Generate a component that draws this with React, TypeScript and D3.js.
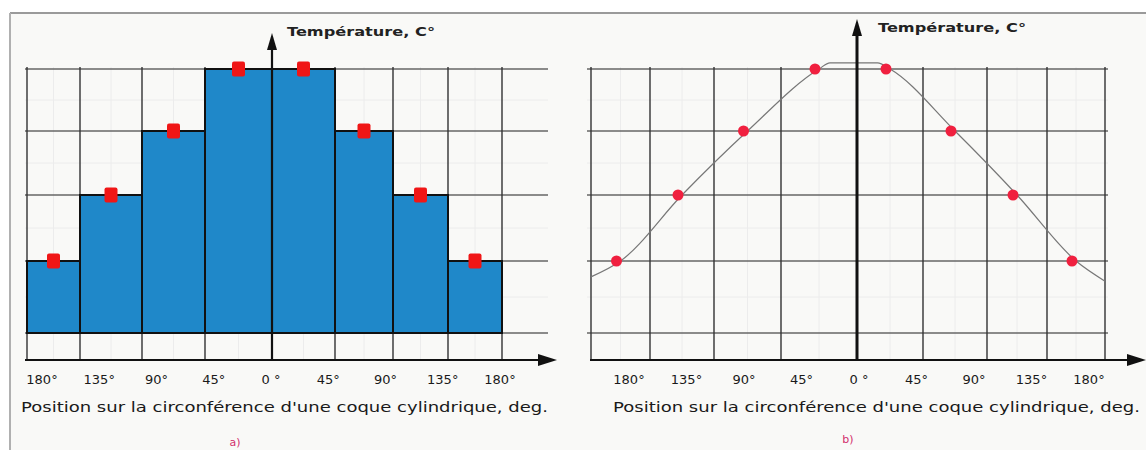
import React from "react";
import * as d3 from "d3";

// ---- data ----
const tickDegrees = [-180, -135, -90, -45, 0, 45, 90, 135, 180];
const tickLabels = ["180°", "135°", "90°", "45°", "0 °", "45°", "90°", "135°", "180°"];
const binStart = [-180, -135, -90, -45, 0, 45, 90, 135];
const binEnd = [-135, -90, -45, 0, 45, 90, 135, 180];
const temperatureLevels = [1, 2, 3, 4, 4, 3, 2, 1];
const gridLevels = [0, 1, 2, 3, 4];
const curveDegrees = [-180, -157.5, -112.5, -67.5, -22.5, -16, 14, 22.5, 67.5, 112.5, 157.5, 180];
const curveLevels = [0.78, 1, 2, 3, 4, 4.1, 4.1, 4, 3, 2, 1, 0.72];
const yTitle = "Température, C°";
const xTitle = "Position sur la circonférence d'une coque cylindrique, deg.";
const panelTags = ["a)", "b)"];

// ---- layout ----
const W = 1146;
const H = 450;
const FONT = "'DejaVu Sans', Verdana, sans-serif";

type PanelCfg = {
  xRange: number[];
  gridX: [number, number];
  axisStart: number;
  axisEnd: number;
  labelRange: [number, number];
  yTip: number;
  titleX: number;
  titleY: number;
  xTitleX: number;
  tagX: number;
  tagY: number;
  kind: "bars" | "curve";
  tag: string;
};

const panels: PanelCfg[] = [
  {
    xRange: [27, 80, 142, 205, 272, 335, 393, 448, 502],
    gridX: [25, 548],
    axisStart: 25,
    axisEnd: 557,
    labelRange: [42, 500],
    yTip: 33,
    titleX: 287,
    titleY: 36,
    xTitleX: 21,
    tagX: 235,
    tagY: 446,
    kind: "bars",
    tag: panelTags[0],
  },
  {
    xRange: [591, 650, 714, 781, 857, 923, 987, 1047, 1105],
    gridX: [587, 1108],
    axisStart: 590,
    axisEnd: 1146,
    labelRange: [629, 1089],
    yTip: 19,
    titleX: 878,
    titleY: 32,
    xTitleX: 613,
    tagX: 848,
    tagY: 443,
    kind: "curve",
    tag: panelTags[1],
  },
];

const yScale = d3.scaleLinear().domain(gridLevels).range([333, 261, 195, 131, 69]);
const AXIS_Y = 360;
const GRID_TOP = 67;

function Panel({ cfg }: { cfg: PanelCfg }) {
  const x = d3.scaleLinear().domain(tickDegrees).range(cfg.xRange);
  const xl = d3.scaleLinear().domain([-180, 180]).range(cfg.labelRange);
  const axisX = x(0);
  const mids = binStart.map((s, i) => (s + binEnd[i]) / 2);
  const minorLevels = d3.range(0.5, 4, 1);

  const line = d3
    .line<number>()
    .x((_, i) => x(curveDegrees[i]))
    .y((v) => yScale(v))
    .curve(d3.curveMonotoneX);

  return (
    <g>
      {/* faint graph-paper minor grid */}
      {mids.map((m, i) => (
        <line key={"mv" + i} x1={x(m)} x2={x(m)} y1={GRID_TOP} y2={AXIS_Y} stroke="#ececec" strokeWidth={1} />
      ))}
      {minorLevels.map((l, i) => (
        <line key={"mh" + i} x1={cfg.gridX[0]} x2={cfg.gridX[1]} y1={yScale(l)} y2={yScale(l)} stroke="#ececec" strokeWidth={1} />
      ))}
      {/* major grid */}
      {gridLevels.map((l) => (
        <line key={"h" + l} x1={cfg.gridX[0]} x2={cfg.gridX[1]} y1={yScale(l)} y2={yScale(l)} stroke="#666" strokeWidth={1.6} />
      ))}
      {tickDegrees
        .filter((d) => d !== 0)
        .map((d) => (
          <line key={"v" + d} x1={x(d)} x2={x(d)} y1={GRID_TOP} y2={AXIS_Y} stroke="#333" strokeWidth={1.4} />
        ))}

      {cfg.kind === "bars" &&
        temperatureLevels.map((v, i) => (
          <rect
            key={"b" + i}
            x={x(binStart[i])}
            y={yScale(v)}
            width={x(binEnd[i]) - x(binStart[i])}
            height={yScale(0) - yScale(v)}
            fill="#1f88c9"
            stroke="#111"
            strokeWidth={2}
          />
        ))}

      {cfg.kind === "curve" && (
        <path d={line(curveLevels) || ""} fill="none" stroke="#777" strokeWidth={1.2} />
      )}

      {/* x axis with arrow */}
      <line x1={cfg.axisStart} x2={cfg.axisEnd - 14} y1={AXIS_Y} y2={AXIS_Y} stroke="#111" strokeWidth={2.2} />
      <path
        d={`M${cfg.axisEnd},${AXIS_Y} L${cfg.axisEnd - 19},${AXIS_Y - 6} L${cfg.axisEnd - 19},${AXIS_Y + 6} Z`}
        fill="#111"
      />
      {/* y axis with arrow */}
      <line x1={axisX} x2={axisX} y1={AXIS_Y} y2={cfg.yTip + 12} stroke="#111" strokeWidth={cfg.kind === "bars" ? 2.2 : 3} />
      <path
        d={`M${axisX},${cfg.yTip} L${axisX - 5},${cfg.yTip + 17} L${axisX + 5},${cfg.yTip + 17} Z`}
        fill="#111"
      />

      {/* markers */}
      {cfg.kind === "bars" &&
        temperatureLevels.map((v, i) => (
          <rect
            key={"m" + i}
            x={x(mids[i]) - 6.5}
            y={yScale(v) - 7.5}
            width={13}
            height={15}
            rx={2}
            fill="#f01616"
          />
        ))}
      {cfg.kind === "curve" &&
        temperatureLevels.map((v, i) => (
          <circle key={"c" + i} cx={x(mids[i]) - 4} cy={yScale(v)} r={5.5} fill="#f0203f" />
        ))}

      {/* texts */}
      <text
        x={cfg.titleX}
        y={cfg.titleY}
        fontFamily={FONT}
        fontSize={13}
        fontWeight="bold"
        fill="#222"
        textLength={148}
        lengthAdjust="spacingAndGlyphs"
      >
        {yTitle}
      </text>
      {tickDegrees.map((d, i) => (
        <text
          key={"t" + i}
          x={xl(d)}
          y={384}
          textAnchor="middle"
          fontFamily={FONT}
          fontSize={13}
          fill="#1a1a1a"
        >
          {tickLabels[i]}
        </text>
      ))}
      <text
        x={cfg.xTitleX}
        y={412}
        fontFamily={FONT}
        fontSize={14}
        fill="#1a1a1a"
        textLength={527}
        lengthAdjust="spacingAndGlyphs"
      >
        {xTitle}
      </text>
      <text x={cfg.tagX} y={cfg.tagY} textAnchor="middle" fontFamily={FONT} fontSize={11} fill="#d2306c">
        {cfg.tag}
      </text>
    </g>
  );
}

export default function App() {
  return (
    <svg
      width={W}
      height={H}
      viewBox={`0 0 ${W} ${H}`}
      style={{ position: "absolute", left: 0, top: 0, background: "#fff" }}
    >
      <rect x={10} y={13} width={W - 10} height={H - 13} fill="#f9f9f7" />
      <line x1={10} x2={W} y1={13} y2={13} stroke="#9a9a9a" strokeWidth={2} />
      <line x1={10} x2={10} y1={13} y2={H} stroke="#b0b0b0" strokeWidth={2} />
      {panels.map((p, i) => (
        <Panel key={i} cfg={p} />
      ))}
    </svg>
  );
}
